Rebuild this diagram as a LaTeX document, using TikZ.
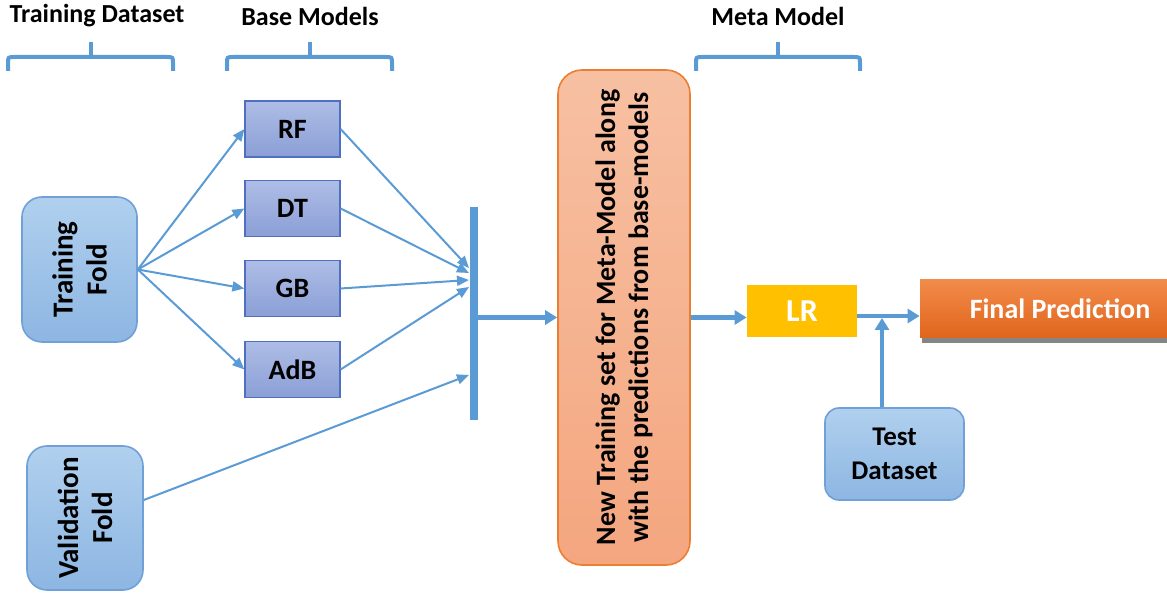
\documentclass[tikz,border=0pt]{standalone}
\usepackage{fontspec}
\setmainfont{Carlito}
\usetikzlibrary{arrows.meta,shadows}
\definecolor{arrowblue}{HTML}{5B9BD5}
\definecolor{foldtop}{HTML}{B0D0EE}
\definecolor{foldbot}{HTML}{8DB6E2}
\definecolor{foldline}{HTML}{6FA0D8}
\definecolor{basetop}{HTML}{AEBDE6}
\definecolor{basebot}{HTML}{8B9FD6}
\definecolor{baseline}{HTML}{4F6FC0}
\definecolor{newtop}{HTML}{F7C0A2}
\definecolor{newbot}{HTML}{F4A67F}
\definecolor{newline}{HTML}{ED7D31}
\definecolor{lrfill}{HTML}{FFC000}
\definecolor{fptop}{HTML}{F28B4A}
\definecolor{fpbot}{HTML}{E0651B}
\begin{document}
\begin{tikzpicture}[x=0.5pt, y=-0.5pt, every node/.style={font=\bfseries}]
        \tikzset{
            head/.style={font=\fontsize{13}{15}\selectfont\bfseries},
            fold/.style={draw=foldline,line width=0.8pt,rounded corners=10pt,rotate=90,
                top color=foldtop,bottom color=foldbot,align=center,
                font=\fontsize{14.5}{17}\selectfont\bfseries},
            testbox/.style={draw=foldline,line width=0.8pt,rounded corners=7pt,
                top color=foldtop,bottom color=foldbot,align=center,
                font=\fontsize{13.5}{17}\selectfont\bfseries},
            base/.style={draw=baseline,line width=0.6pt,top color=basetop,bottom color=basebot,
                minimum width=47.5pt,minimum height=28pt,font=\fontsize{14}{16}\selectfont\bfseries},
            link/.style={draw=arrowblue,line width=1pt,-{Triangle[length=6pt,width=5pt]}},
            flow/.style={draw=arrowblue,line width=2.2pt,-{Triangle[length=6pt,width=7pt]}},
            brace/.style={draw=arrowblue,line width=2pt,line cap=butt}
        }
        \useasboundingbox (0,0) rectangle (1167,598);
        % headers
        \node[head] (tdh) at (97,16) {Training Dataset};
        \node[head] (bmh) at (310,16) {Base Models};
        \node[head] (mmh) at (778,16) {Meta Model};
        % braces
        \foreach \xa/\xb in {8/173, 227/392, 696/860}{
            \draw[brace] (\xa,71) -- (\xa,63) .. controls (\xa,57) .. ({\xa+7},57)
                -- ({\xb-7},57) .. controls (\xb,57) .. (\xb,63) -- (\xb,71);
            \draw[brace] ({(\xa+\xb)/2},57) -- ({(\xa+\xb)/2},42);
        }
        % folds
        \node[fold,minimum width=72.5pt,minimum height=57.5pt] (tf) at (79.5,269.5) {Training\\Fold};
        \node[fold,minimum width=72pt,minimum height=58pt] (vf) at (85,518) {Validation\\Fold};
        % base models
        \node[base] (rf) at (292.5,129) {RF};
        \node[base] (dt) at (292.5,208.5) {DT};
        \node[base] (gb) at (292.5,288.5) {GB};
        \node[base] (adb) at (292.5,369.5) {AdB};
        % collector bar
        \node[fill=arrowblue,minimum width=4pt,minimum height=106.5pt,inner sep=0pt] (bar) at (474,313.5) {};
        \coordinate (b1) at (469,268);
        \coordinate (b2) at (469,273);
        \coordinate (b3) at (469,280);
        \coordinate (b4) at (469,287);
        \coordinate (b5) at (469,375);
        % meta level
        \node[draw=newline,line width=0.8pt,rounded corners=12pt,rotate=90,top color=newtop,bottom color=newbot,
            minimum width=247.5pt,minimum height=66pt,align=center,
            font=\fontsize{14}{16.5}\selectfont\bfseries] (nts) at (624,317.5)
            {New Training set for Meta-Model along\\with the predictions from base-models};
        \node[fill=lrfill,text=white,minimum width=55pt,minimum height=26pt,
            font=\fontsize{16}{18}\selectfont\bfseries] (lr) at (802,311) {LR};
        \node[top color=fptop,bottom color=fpbot,text=white,minimum width=140pt,minimum height=29pt,
            drop shadow={shadow xshift=1pt,shadow yshift=-2.5pt,fill=black!60,opacity=0.8},
            font=\fontsize{14}{16}\selectfont\bfseries] (fp) at (1060,309) {Final Prediction};
        \node[testbox,minimum width=69.5pt,minimum height=46pt] (tdn) at (894.5,454) {Test\\Dataset};
        \coordinate (j) at (882,316);
        % connectors
        \draw[link] (tf.south) -- (rf.west);
        \draw[link] (tf.south) -- (dt.west);
        \draw[link] (tf.south) -- (gb.west);
        \draw[link] (tf.south) -- (adb.west);
        \draw[link] (rf.east) -- (b1);
        \draw[link] (dt.east) -- (b2);
        \draw[link] (gb.east) -- (b3);
        \draw[link] (adb.east) -- (b4);
        \draw[link] ([yshift=9pt]vf.south) -- (b5);
        \draw[flow] (bar.east |- nts.north) -- (nts.north);
        \draw[flow] (nts.south) -- (lr.west |- nts.south);
        \draw[flow] (lr.east |- j) -- (fp.west |- j);
        \draw[flow] (j |- tdn.north) -- ([yshift=-1pt]j);
    \end{tikzpicture}
\end{document}
